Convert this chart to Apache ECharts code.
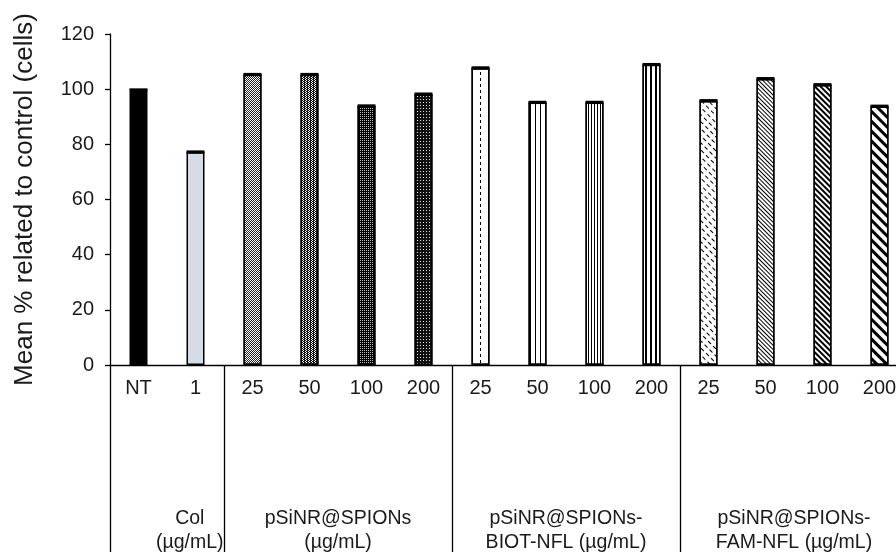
<!DOCTYPE html>
<html>
<head>
<meta charset="utf-8">
<script src="https://cdn.jsdelivr.net/npm/echarts@6/dist/echarts.min.js"></script>
<style>
html,body{margin:0;padding:0;background:#fff;}
#chart{width:896px;height:552px;}
</style>
</head>
<body>
<div id="chart"></div>
<script>
// ---- data ----
var categories = ['NT', '1', '25', '50', '100', '200', '25', '50', '100', '200', '25', '50', '100', '200'];
var values = [99.8, 77.2, 105.3, 105.3, 93.9, 98.2, 107.7, 95.2, 95.2, 108.9, 95.8, 103.8, 101.6, 93.8];
var errors = [0.5, 0.6, 0.6, 0.6, 0.6, 0.6, 0.6, 0.6, 0.6, 0.6, 0.6, 0.6, 0.6, 0.6];
var groupLabels = ['Col\n(µg/mL)', 'pSiNR@SPIONs\n(µg/mL)', 'pSiNR@SPIONs-\nBIOT-NFL (µg/mL)', 'pSiNR@SPIONs-\nFAM-NFL (µg/mL)'];
var groupStarts = [0, 2, 6, 10];   // category index where each group block begins
var groupEnds = [2, 6, 10, 14];
var yTicks = [0, 20, 40, 60, 80, 100, 120];

// ---- fill styles (one per bar) ----
var P = Math.PI / 4;
var styles = [
  {color: '#000'},
  {color: '#d6dce5'},
  {color: '#fff', decal: {symbol: 'rect', symbolSize: 1, color: '#222', dashArrayX: [[1, 1], [0, 1, 1, 0]], dashArrayY: [1, 0]}},
  {color: '#fff', decal: {symbol: 'rect', symbolSize: 1, color: '#111', dashArrayX: [[2, 1], [0, 1, 2, 0]], dashArrayY: [1, 0]}},
  {color: '#000', decal: {symbol: 'rect', symbolSize: 1, color: '#bbb', dashArrayX: [1, 1], dashArrayY: [1, 1]}},
  {color: '#111', decal: {symbol: 'rect', symbolSize: 1, color: '#ddd', dashArrayX: [1, 2], dashArrayY: [1, 2]}},
  {color: '#fff', decal: {symbol: 'rect', symbolSize: 1, color: '#000', dashArrayX: [1, 7], dashArrayY: [3, 3]}},
  {color: '#fff', decal: {symbol: 'rect', symbolSize: 1, color: '#000', dashArrayX: [1, 4], dashArrayY: [1, 0]}},
  {color: '#fff', decal: {symbol: 'rect', symbolSize: 1, color: '#000', dashArrayX: [1, 2], dashArrayY: [1, 0]}},
  {color: '#fff', decal: {symbol: 'rect', symbolSize: 1, color: '#000', dashArrayX: [2, 3], dashArrayY: [1, 0]}},
  {color: '#fff', decal: {symbol: 'rect', symbolSize: 1, color: '#000', dashArrayX: [4, 3], dashArrayY: [1, 4], rotation: P}},
  {color: '#fff', decal: {symbol: 'rect', symbolSize: 1, color: '#000', dashArrayX: [1, 0], dashArrayY: [1, 2], rotation: P}},
  {color: '#fff', decal: {symbol: 'rect', symbolSize: 1, color: '#000', dashArrayX: [1, 0], dashArrayY: [2, 2], rotation: P}},
  {color: '#fff', decal: {symbol: 'rect', symbolSize: 1, color: '#000', dashArrayX: [1, 0], dashArrayY: [3, 4], rotation: P}}
];

var barData = values.map(function (v, i) {
  var s = styles[i];
  var it = {value: v, itemStyle: {color: s.color, borderColor: '#000', borderWidth: 1.5}};
  if (s.decal) it.itemStyle.decal = s.decal;
  return it;
});
var errData = values.map(function (v, i) { return [i, v, errors[i]]; });

var groupCenters = groupLabels.map(function (g, i) {
  // Col label sits under its own category, the others are centred on their blocks
  return i === 0 ? groupEnds[0] - 0.6 : (groupStarts[i] + groupEnds[i]) / 2;
});

var chart = echarts.init(document.getElementById('chart'), null, {renderer: 'canvas'});
var textColor = '#1a1a1a';
var font = 'Liberation Sans, Arial, sans-serif';

chart.setOption({
  animation: false,
  backgroundColor: '#fff',
  grid: {left: 110, right: -12, top: 34, bottom: 187, containLabel: false, outerBoundsMode: 'none'},
  xAxis: [
    {
      type: 'category',
      data: categories,
      axisLine: {show: true, lineStyle: {color: '#000', width: 1.3}},
      axisTick: {show: false},
      axisLabel: {fontSize: 20, color: textColor, fontFamily: font, margin: 13, lineHeight: 20, interval: 0}
    },
    {
      type: 'value',
      min: 0,
      max: categories.length,
      position: 'bottom',
      axisLine: {show: false},
      splitLine: {show: false},
      axisTick: {show: true, inside: false, length: 190, customValues: groupStarts, lineStyle: {color: '#000', width: 1.3}},
      axisLabel: {
        show: true,
        customValues: groupCenters,
        fontSize: 19.5,
        lineHeight: 23.5,
        color: textColor,
        fontFamily: font,
        margin: 142,
        align: 'center',
        formatter: function (v) {
          for (var i = 0; i < groupCenters.length; i++) {
            if (Math.abs(groupCenters[i] - v) < 1e-6) return groupLabels[i];
          }
          return '';
        }
      }
    }
  ],
  yAxis: {
    type: 'value',
    min: yTicks[0],
    max: yTicks[yTicks.length - 1],
    interval: 20,
    name: 'Mean % related to control (cells)',
    nameLocation: 'middle',
    nameGap: 72,
    nameTextStyle: {fontSize: 26, color: textColor, fontFamily: font},
    axisLine: {show: true, lineStyle: {color: '#000', width: 1.3}},
    axisTick: {show: true, inside: false, length: 5, lineStyle: {color: '#000', width: 1.3}},
    splitLine: {show: false},
    axisLabel: {fontSize: 20, color: textColor, fontFamily: font, margin: 16}
  },
  series: [
    {
      type: 'bar',
      xAxisIndex: 0,
      data: barData,
      barWidth: 18
    },
    {
      type: 'custom',
      xAxisIndex: 0,
      data: errData,
      z: 5,
      renderItem: function (params, api) {
        var i = api.value(0), v = api.value(1), e = api.value(2);
        var top = api.coord([i, v + e]);
        var bot = api.coord([i, v - e]);
        var w = 18;
        return {
          type: 'rect',
          shape: {x: top[0] - w / 2, y: top[1], width: w, height: Math.max(2, bot[1] - top[1])},
          style: {fill: '#000'}
        };
      }
    }
  ]
});
</script>
</body>
</html>
